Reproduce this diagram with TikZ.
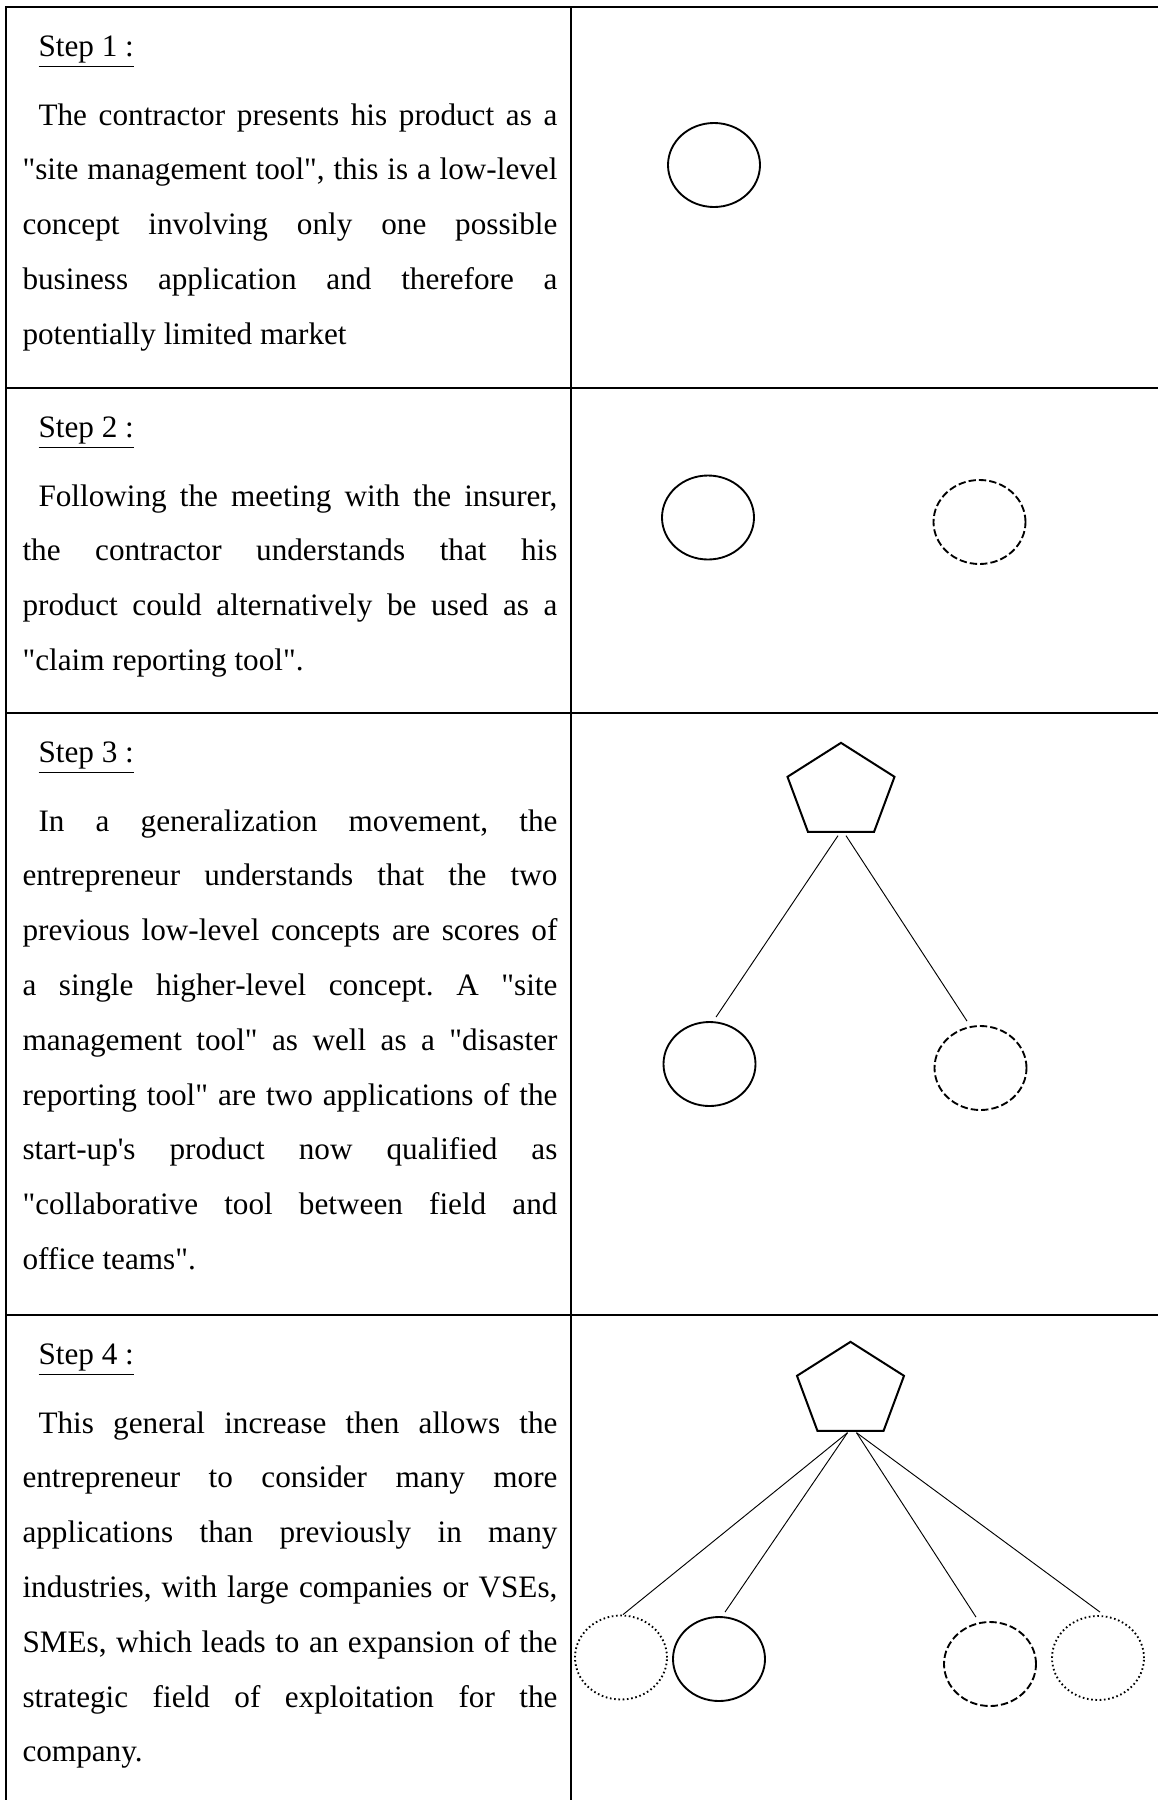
\documentclass[tikz,border=0pt]{standalone}
\usepackage{fontspec}
\setmainfont{Liberation Serif}[Ligatures=TeXOff]
\usetikzlibrary{shapes.geometric,calc}
\frenchspacing

\tikzset{
  rule/.style={line width=0.9pt},
  concept/.style={ellipse, draw, line width=0.7pt, minimum width=34.5pt, minimum height=31.5pt, inner sep=0pt},
  newconcept/.style={concept, dash pattern=on 2.75pt off 1.15pt},
  farconcept/.style={concept, dash pattern=on 0.6pt off 1pt},
  general/.style={regular polygon, regular polygon sides=5, draw, line width=0.75pt, minimum size=42.2pt, inner sep=0pt, yscale=0.874},
  link/.style={line width=0.35pt},
  stephead/.style={anchor=base west, inner sep=0pt, font=\fontsize{11.7pt}{20.55pt}\selectfont},
  steptext/.style={anchor=base west, inner sep=0pt, text width=200.6pt, align=justify, font=\fontsize{11.7pt}{20.55pt}\selectfont\frenchspacing},
}

\begin{document}
\begin{tikzpicture}[x=0.375pt, y=-0.375pt]
    \useasboundingbox (0,0) rectangle (1158,1800);
    \draw[rule] (6,1800) -- (6,7) -- (1158,7);
    \draw[rule] (571,7) -- (571,1800);
    \draw[rule] (6,388) -- (1158,388);
    \draw[rule] (6,713) -- (1158,713);
    \draw[rule] (6,1315) -- (1158,1315);

    \node[stephead] (h1) at (22,56) {\hspace*{6pt}\underline{Step 1 :}};
    \node[steptext] (t1) at (22,125) {\hspace*{6pt}The contractor presents his product as a\linebreak "site management tool", this is a low-level\linebreak concept involving only one possible\linebreak business application and therefore a\linebreak potentially limited market};

    \node[stephead] (h2) at (22,437) {\hspace*{6pt}\underline{Step 2 :}};
    \node[steptext] (t2) at (22,506) {\hspace*{6pt}Following the meeting with the insurer,\linebreak the contractor understands that his\linebreak product could alternatively be used as a\linebreak "claim reporting tool".};

    \node[stephead] (h3) at (22,762) {\hspace*{6pt}\underline{Step 3 :}};
    \node[steptext] (t3) at (22,831) {\hspace*{6pt}In a generalization movement, the\linebreak entrepreneur understands that the two\linebreak previous low-level concepts are scores of\linebreak a single higher-level concept. A "site\linebreak management tool" as well as a "disaster\linebreak reporting tool" are two applications of the\linebreak start-up's product now qualified as\linebreak "collaborative tool between field and\linebreak office teams".};

    \node[stephead] (h4) at (22,1364) {\hspace*{6pt}\underline{Step 4 :}};
    \node[steptext] (t4) at (22,1433) {\hspace*{6pt}This general increase then allows the\linebreak entrepreneur to consider many more\linebreak applications than previously in many\linebreak industries, with large companies or VSEs,\linebreak SMEs, which leads to an expansion of the\linebreak strategic field of exploitation for the\linebreak company.};

    \node[concept] (c1) at (714,165) {};

    \node[concept] (c21) at (708,517.5) {};
    \node[newconcept] (c22) at (979.5,522) {};

    \node[general] (p3) at (841,792) {};
    \node[concept] (c31) at (709.5,1064) {};
    \node[newconcept] (c32) at (980.5,1068) {};
    \draw[link] ($(p3.south)+(-3,3)$) -- ($(c31.north)+(6.5,-4)$);
    \draw[link] ($(p3.south)+(5,3)$) -- ($(c32.north)+(-13.5,-4)$);

    \node[general] (p4) at (850.5,1391) {};
    \node[farconcept] (c41) at (621,1657.5) {};
    \node[concept] (c42) at (719,1659) {};
    \node[newconcept] (c43) at (990,1664) {};
    \node[farconcept] (c44) at (1098,1658) {};
    \draw[link] ($(p4.south)+(-3,1)$) -- ($(c41.north)+(2,0)$);
    \draw[link] ($(p4.south)+(-3,1)$) -- ($(c42.north)+(6,-4)$);
    \draw[link] ($(p4.south)+(6,1)$) -- ($(c43.north)+(-14,-4)$);
    \draw[link] ($(p4.south)+(6,1)$) -- ($(c44.north)+(2,-3)$);
\end{tikzpicture}
\end{document}
